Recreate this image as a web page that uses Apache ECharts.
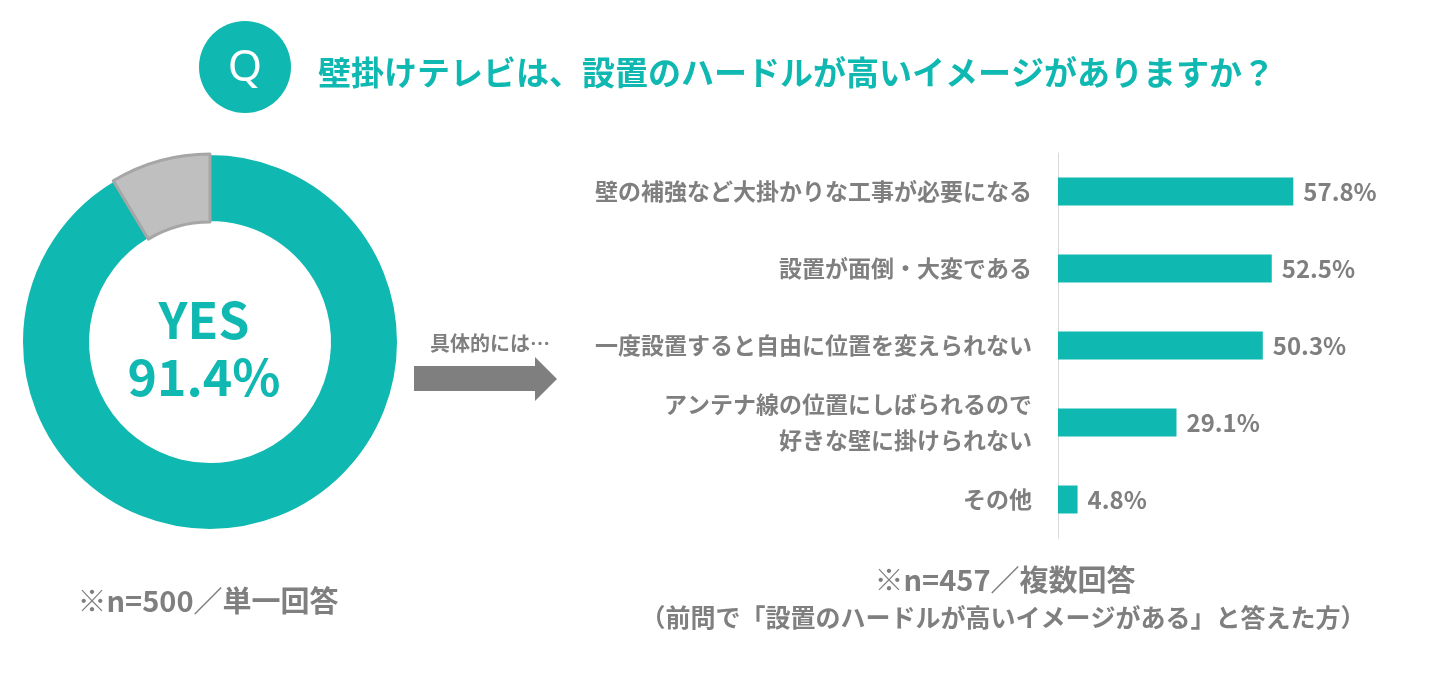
<!DOCTYPE html>
<html>
<head>
<meta charset="utf-8">
<script src="https://cdn.jsdelivr.net/npm/echarts@6/dist/echarts.min.js"></script>
<style>
  html, body { margin: 0; padding: 0; background: #fff; }
  #main { width: 1438px; height: 688px; }
</style>
</head>
<body>
<div id="main"></div>
<script>
// 円グラフ（単一回答）
const pieLabels = ['YES', 'NO']
const pieValues = [91.4, 8.6]

// 棒グラフ（複数回答）
const barCategories = [
  '壁の補強など大掛かりな工事が必要になる',
  '設置が面倒・大変である',
  '一度設置すると自由に位置を変えられない',
  'アンテナ線の位置にしばられるので\n好きな壁に掛けられない',
  'その他'
]
const barValues = [57.8, 52.5, 50.3, 29.1, 4.8]

const titleText = '壁掛けテレビは、設置のハードルが高いイメージがありますか？'
const noteLeft = '※n=500／単一回答'
const noteRight1 = '※n=457／複数回答'
const noteRight2 = '（前問で「設置のハードルが高いイメージがある」と答えた方）'

const TEAL = '#0fb8b0'
const GRAY_TEXT = '#7f7f7f'
const FONT = '"Noto Sans CJK JP", "Noto Sans", sans-serif'

const chart = echarts.init(document.getElementById('main'), null, { renderer: 'canvas' })

const option = {
  animation: false,
  backgroundColor: '#fff',
  textStyle: { fontFamily: FONT },
  grid: {
    left: 1058,
    right: 95,
    top: 153,
    bottom: 150,
    containLabel: false
  },
  xAxis: {
    type: 'value',
    min: 0,
    max: 70,
    show: false
  },
  yAxis: {
    type: 'category',
    inverse: true,
    data: barCategories,
    axisLine: { lineStyle: { color: '#d9d9d9', width: 1 } },
    axisTick: { show: false },
    axisLabel: {
      margin: 26,
      color: GRAY_TEXT,
      fontSize: 23,
      fontWeight: 'bold',
      fontFamily: FONT,
      lineHeight: 36,
      align: 'right'
    }
  },
  series: [
    {
      type: 'pie',
      center: [210, 342],
      radius: [120, 188],
      startAngle: 90,
      clockwise: true,
      label: { show: false },
      labelLine: { show: false },
      emphasis: { disabled: true },
      data: pieLabels.map((name, i) => ({
        name,
        value: pieValues[i],
        itemStyle: i === 0
          ? { color: TEAL, borderColor: '#ffffff', borderWidth: 2 }
          : { color: '#bfbfbf', borderColor: '#a6a6a6', borderWidth: 3 }
      }))
    },
    {
      type: 'bar',
      data: barValues,
      barWidth: 28,
      itemStyle: { color: TEAL },
      label: {
        show: true,
        position: 'right',
        distance: 10,
        color: GRAY_TEXT,
        fontSize: 24,
        fontWeight: 'bold',
        fontFamily: FONT,
        formatter: p => p.value.toFixed(1) + '%'
      }
    }
  ],
  graphic: [
    // Qマーク
    {
      type: 'circle',
      shape: { cx: 245, cy: 67, r: 46 },
      style: { fill: TEAL }
    },
    {
      type: 'text',
      x: 245,
      y: 68,
      style: {
        text: 'Q',
        fill: '#fff',
        font: '44px "Noto Sans", sans-serif',
        align: 'center',
        verticalAlign: 'middle'
      }
    },
    {
      type: 'text',
      x: 318,
      y: 72,
      style: {
        text: titleText,
        fill: TEAL,
        font: 'bold 33px ' + FONT,
        verticalAlign: 'middle'
      }
    },
    // 円グラフ中央
    {
      type: 'text',
      x: 204,
      y: 320,
      style: {
        text: pieLabels[0],
        fill: TEAL,
        font: 'bold 50px ' + FONT,
        align: 'center',
        verticalAlign: 'middle'
      }
    },
    {
      type: 'text',
      x: 204,
      y: 377,
      style: {
        text: pieValues[0].toFixed(1) + '%',
        fill: TEAL,
        font: 'bold 50px ' + FONT,
        align: 'center',
        verticalAlign: 'middle'
      }
    },
    // 矢印
    {
      type: 'polygon',
      shape: {
        points: [[414, 366], [535, 366], [535, 357], [557, 379], [535, 401], [535, 391], [414, 391]]
      },
      style: { fill: GRAY_TEXT }
    },
    {
      type: 'text',
      x: 490,
      y: 343,
      style: {
        text: '具体的には…',
        fill: GRAY_TEXT,
        font: 'bold 20px ' + FONT,
        align: 'center',
        verticalAlign: 'middle'
      }
    },
    // 注記
    {
      type: 'text',
      x: 208,
      y: 601,
      style: {
        text: noteLeft,
        fill: GRAY_TEXT,
        font: 'bold 29px ' + FONT,
        align: 'center',
        verticalAlign: 'middle'
      }
    },
    {
      type: 'text',
      x: 1005,
      y: 580,
      style: {
        text: noteRight1,
        fill: GRAY_TEXT,
        font: 'bold 29px ' + FONT,
        align: 'center',
        verticalAlign: 'middle'
      }
    },
    {
      type: 'text',
      x: 1003,
      y: 617,
      style: {
        text: noteRight2,
        fill: GRAY_TEXT,
        font: 'bold 25px ' + FONT,
        align: 'center',
        verticalAlign: 'middle'
      }
    }
  ]
}

chart.setOption(option)
</script>
</body>
</html>
